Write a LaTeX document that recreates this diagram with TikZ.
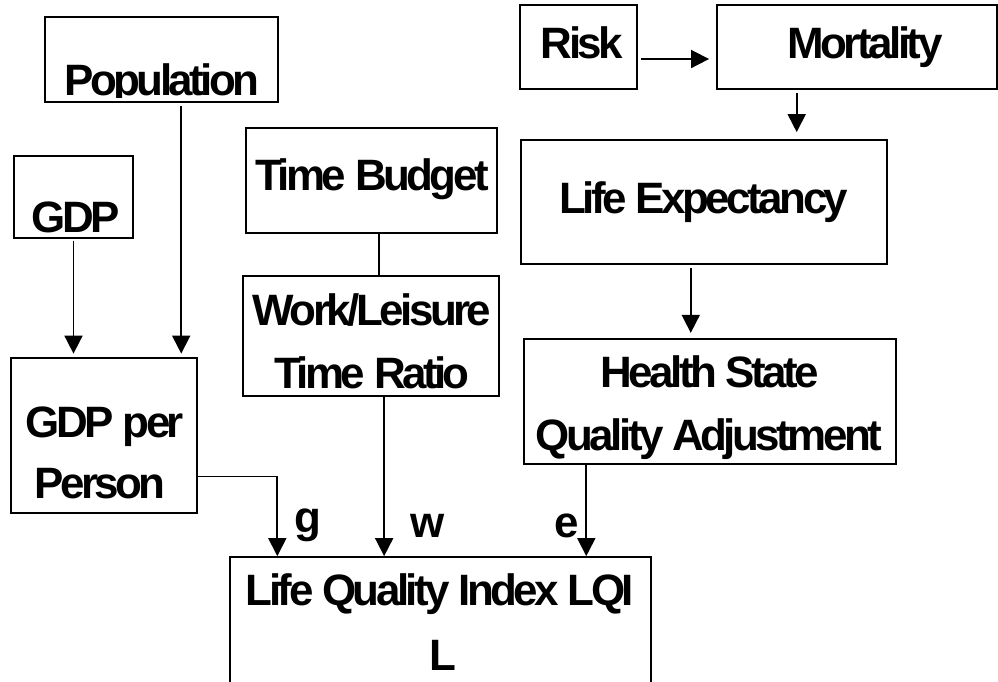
\documentclass[tikz,border=0pt]{standalone}
\usepackage{fontspec}
\newfontfamily\arial{Liberation Sans}[LetterSpace=-8]
\usetikzlibrary{arrows.meta,calc,fit}

\begin{document}
\begin{tikzpicture}[x=0.02cm, y=-0.02cm,
	boite/.style={draw, line width=1pt, inner sep=0pt},
	texte/.style={anchor=base, inner sep=0pt, font=\arial\bfseries\fontsize{25}{30}\selectfont},
	fleche/.style={line width=1pt, -{Triangle[length=0.36cm, width=0.36cm]}}]

		\path[use as bounding box, fill=white] (0,0) rectangle (998,681);

		\newcommand{\mkbox}[5]{
			\node[boite, fit={(#2,#3) (#4,#5)}] (#1) {};
		}

		%les boites
		\mkbox{pop}{45}{17}{278}{102}
		\mkbox{gdp}{14}{156}{133}{238}
		\mkbox{tb}{246}{128}{497}{233}
		\mkbox{wl}{243}{276}{499}{396}
		\mkbox{gpp}{11}{358}{197}{513}
		\mkbox{risk}{520}{5}{637}{89}
		\mkbox{mort}{717}{5}{997}{89}
		\mkbox{le}{521}{140}{887}{264}
		\mkbox{hsqa}{524}{339}{896}{464}
		\mkbox{lqi}{230}{557}{651}{730}

		%les textes
		\begin{scope}
			\clip (45,17) rectangle (278,97);
			\node[texte] (pop-t) at (162,95) {Population};
		\end{scope}
		\node[texte] (gdp-t) at (76,232) {GDP};
		\node[texte] (tb-t) at (372,190) {Time Budget};
		\node[texte] (wl-t1) at (372,325) {Work/Leisure};
		\node[texte] (wl-t2) at (372,388) {Time Ratio};
		\node[texte] (gpp-t1) at (105,437) {GDP per};
		\node[texte] (gpp-t2) at (100,498) {Person};
		\node[texte] (risk-t) at (582,58) {Risk};
		\node[texte] (mort-t) at (865,58) {Mortality};
		\node[texte] (le-t) at (704,213) {Life Expectancy};
		\node[texte] (hsqa-t1) at (710,387) {Health State};
		\node[texte] (hsqa-t2) at (709,450) {Quality Adjustment};
		\node[texte] (lqi-t1) at (440,605) {Life Quality Index LQI};
		\node[texte] (lqi-t2) at (443,670) {L};

		\node[texte] (g) at (308,532) {g};
		\node[texte] (w) at (428,537) {w};
		\node[texte] (e) at (567,537) {e};

		%les fleches
		\draw[fleche, shorten <=2pt, shorten >=4pt] ($(risk.north east)!0.64!(risk.south east)$) coordinate (r) -- (r -| mort.west);
		\draw[fleche, shorten <=2pt, shorten >=4pt] ($(mort.south west)!0.286!(mort.south east)$) coordinate (m) -- (m |- le.north);
		\draw[fleche, shorten <=2pt, shorten >=3pt] ($(le.south west)!0.464!(le.south east)$) coordinate (l) -- (l |- hsqa.north);
		\draw[fleche] ($(hsqa.south west)!0.169!(hsqa.south east)$) coordinate (h) -- (h |- lqi.north);

		\draw[line width=1pt] ($(tb.south west)!0.53!(tb.south east)$) coordinate (t) -- (t |- wl.north);
		\draw[fleche] ($(wl.south west)!0.551!(wl.south east)$) coordinate (k) -- (k |- lqi.north);

		\draw[fleche, shorten <=1pt, shorten >=2pt] (gdp.south) -- (gdp.south |- gpp.north);
		\draw[fleche, shorten <=2pt, shorten >=2pt] ($(pop.south west)!0.584!(pop.south east)$) coordinate (p) -- (p |- gpp.north);
		\draw[fleche] ($(gpp.north east)!0.761!(gpp.south east)$) -| ($(lqi.north west)!0.114!(lqi.north east)$);

\end{tikzpicture}
\end{document}
